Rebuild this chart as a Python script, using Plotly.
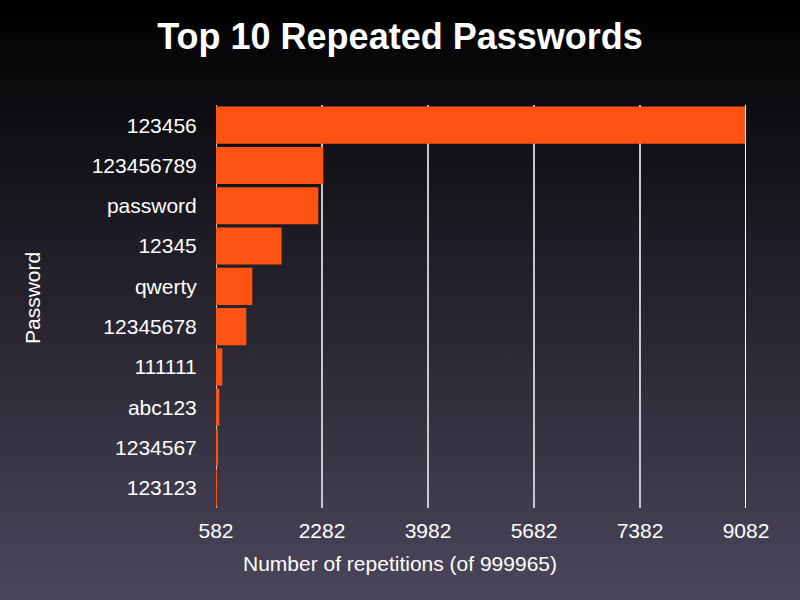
import base64
import plotly.graph_objects as go

# ---- data ----
passwords = ["123456", "123456789", "password", "12345", "qwerty",
             "12345678", "111111", "abc123", "1234567", "123123"]
repetitions = [9082, 2303, 2223, 1634, 1164, 1068, 683, 635, 603, 585]
tick_vals = [582, 2282, 3982, 5682, 7382, 9082]
tick_text = ["582", "2282", "3982", "5682", "7382", "9082"]
total = 999965

title_text = "Top 10 Repeated Passwords"
x_title = f"Number of repetitions (of {total})"
y_title = "Password"

BAR = "#ff5314"
FONT = "Liberation Sans, Arial, Helvetica, sans-serif"

# background gradient as svg image
svg = ('<svg xmlns="http://www.w3.org/2000/svg" width="800" height="600" preserveAspectRatio="none">'
       '<defs><linearGradient id="g" x1="0" y1="0" x2="0" y2="1">'
       '<stop offset="0" stop-color="#000000"/><stop offset="1" stop-color="#4b465b"/>'
       '</linearGradient></defs><rect width="800" height="600" fill="url(#g)"/></svg>')
bg = "data:image/svg+xml;base64," + base64.b64encode(svg.encode()).decode()

W, H = 800, 600
ml, mr, mt, mb = 216, 54, 105, 92

fig = go.Figure(go.Bar(
    x=[v - tick_vals[0] for v in repetitions], y=passwords, orientation="h",
    base=tick_vals[0],
    marker=dict(color=BAR, line=dict(width=0)),
    customdata=repetitions,
    hovertemplate="%{y}: %{customdata}<extra></extra>",
))

fig.update_layout(
    width=W, height=H,
    margin=dict(l=ml, r=mr, t=mt, b=mb, pad=0),
    paper_bgcolor="#000000",
    plot_bgcolor="rgba(0,0,0,0)",
    bargap=0.08,
    showlegend=False,
    font=dict(family=FONT, color="#ffffff", size=21),
    title=dict(text=title_text, x=0.5, xref="container", xanchor="center",
               y=1 - 36 / H, yref="container", yanchor="middle",
               font=dict(family=FONT, size=36, color="#ffffff", weight="bold")),
    images=[dict(source=bg, xref="paper", yref="paper",
                 x=-ml / (W - ml - mr), y=1 + mt / (H - mt - mb),
                 sizex=W / (W - ml - mr), sizey=H / (H - mt - mb),
                 xanchor="left", yanchor="top", sizing="stretch", layer="below")],
    xaxis=dict(range=[tick_vals[0], tick_vals[-1]], tickmode="array",
               tickvals=tick_vals, ticktext=tick_text,
               showgrid=True, gridcolor="#c8c8c8", gridwidth=1.5,
               zeroline=False, showline=False,
               ticks="outside", ticklen=4, tickcolor="rgba(0,0,0,0)",
               tickfont=dict(size=21, color="#ffffff")),
    yaxis=dict(autorange="reversed", showgrid=False, zeroline=False,
               showline=False, ticks="outside", ticklen=14,
               tickcolor="rgba(0,0,0,0)",
               tickfont=dict(size=21, color="#ffffff")),
    annotations=[
        dict(text=x_title, xref="paper", yref="paper",
             x=(400 - ml) / (W - ml - mr), y=-(563 - (H - mb)) / (H - mt - mb),
             xanchor="center", yanchor="middle", showarrow=False,
             font=dict(size=21, color="#ffffff")),
        dict(text=y_title, xref="paper", yref="paper", textangle=-90,
             x=-(ml - 32) / (W - ml - mr), y=1 - (298 - mt) / (H - mt - mb),
             xanchor="center", yanchor="middle", showarrow=False,
             font=dict(size=21, color="#ffffff")),
    ],
    shapes=[
        dict(type="line", xref="x", yref="paper", x0=tick_vals[-1], x1=tick_vals[-1],
             y0=0, y1=1, line=dict(color="#ffffff", width=2), layer="above"),
        dict(type="line", xref="x", yref="paper", x0=tick_vals[0], x1=tick_vals[0],
             y0=0, y1=1, line=dict(color="#c8c8c8", width=2), layer="below"),
    ],
)

fig.write_html("out.html")
